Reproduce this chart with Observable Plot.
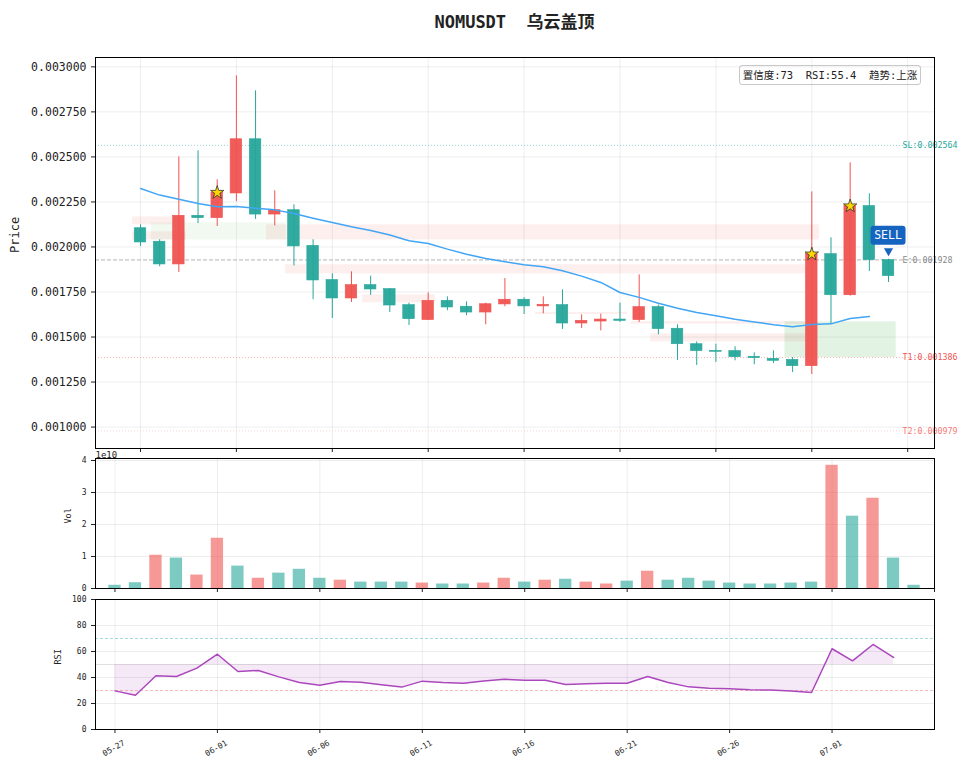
<!DOCTYPE html>
<html><head><meta charset="utf-8">
<script src="https://cdn.jsdelivr.net/npm/d3@7"></script>
<script src="https://cdn.jsdelivr.net/npm/@observablehq/plot@0.6"></script>
<style>
body{margin:0;background:#fff;}
#root{position:relative;width:967px;height:770px;font-family:"DejaVu Sans Mono","Noto Sans CJK SC",monospace;color:#222;}
.panel{position:absolute;left:0;}
.panel svg{overflow:visible;}
#title{position:absolute;left:95px;width:839px;top:8px;text-align:center;font-size:17px;font-weight:bold;white-space:pre;}
#info{position:absolute;left:739px;top:65px;width:180px;height:18px;line-height:18px;border:1px solid #c8c8c8;border-radius:3px;background:#fff;font-size:10.5px;text-align:center;white-space:pre;}
</style></head><body><div id="root">
<div id="title">NOMUSDT  乌云盖顶</div>
</div>
<script>
// ---------- data ----------
const dates = ["05-27","05-28","05-29","05-30","05-31","06-01","06-02","06-03","06-04","06-05",
  "06-06","06-07","06-08","06-09","06-10","06-11","06-12","06-13","06-14","06-15",
  "06-16","06-17","06-18","06-19","06-20","06-21","06-22","06-23","06-24","06-25",
  "06-26","06-27","06-28","06-29","06-30","07-01","07-02","07-03","07-04","07-05"];
const opens = [0.002104,0.002029,0.001903,0.002173,0.002160,0.002297,0.002598,0.002180,0.002204,0.002006,
  0.001816,0.001714,0.001788,0.001766,0.001677,0.001594,0.001701,0.001668,0.001636,0.001681,
  0.001707,0.001670,0.001677,0.001575,0.001586,0.001597,0.001594,0.001666,0.001546,0.001460,
  0.001423,0.001422,0.001390,0.001379,0.001373,0.001338,0.001960,0.001732,0.002227,0.001927];
const closes = [0.002025,0.001903,0.002173,0.002160,0.002302,0.002598,0.002180,0.002204,0.002003,0.001814,
  0.001714,0.001788,0.001764,0.001675,0.001599,0.001701,0.001664,0.001636,0.001682,0.001707,
  0.001670,0.001679,0.001575,0.001590,0.001597,0.001590,0.001666,0.001544,0.001460,0.001422,
  0.001418,0.001388,0.001383,0.001368,0.001338,0.001960,0.001732,0.002227,0.001927,0.001838];
const highs = [0.002123,0.002040,0.002500,0.002534,0.002373,0.002950,0.002867,0.002312,0.002234,0.002040,
  0.001851,0.001862,0.001838,0.001769,0.001688,0.001745,0.001723,0.001695,0.001688,0.001825,
  0.001718,0.001723,0.001762,0.001623,0.001627,0.001688,0.001845,0.001677,0.001568,0.001473,
  0.001460,0.001446,0.001412,0.001423,0.001386,0.002306,0.002051,0.002467,0.002295,0.001932];
const lows = [0.002003,0.001890,0.001858,0.002130,0.002114,0.002252,0.002153,0.002117,0.001895,0.001707,
  0.001603,0.001692,0.001731,0.001636,0.001564,0.001592,0.001646,0.001618,0.001568,0.001668,
  0.001625,0.001629,0.001542,0.001547,0.001534,0.001581,0.001581,0.001512,0.001370,0.001342,
  0.001359,0.001368,0.001346,0.001353,0.001303,0.001292,0.001575,0.001727,0.001864,0.001803];
const maValues = [0.002325,0.002288,0.002265,0.002241,0.002223,0.002225,0.002215,0.002206,0.002186,0.002160,
  0.002136,0.002112,0.002091,0.002066,0.002034,0.002019,0.001988,0.001960,0.001936,0.001918,
  0.001901,0.001890,0.001868,0.001838,0.001803,0.001747,0.001720,0.001688,0.001660,0.001636,
  0.001618,0.001599,0.001584,0.001568,0.001557,0.001570,0.001573,0.001603,0.001614];
const volumes = [0.10e10,0.18e10,1.04e10,0.95e10,0.42e10,1.57e10,0.70e10,0.32e10,0.48e10,0.60e10,
  0.32e10,0.26e10,0.20e10,0.20e10,0.20e10,0.17e10,0.14e10,0.14e10,0.17e10,0.32e10,
  0.20e10,0.26e10,0.29e10,0.20e10,0.14e10,0.23e10,0.54e10,0.26e10,0.32e10,0.23e10,
  0.17e10,0.14e10,0.14e10,0.17e10,0.20e10,3.85e10,2.26e10,2.82e10,0.95e10,0.10e10];
const rsiValues = [29.7,26.4,41.3,40.8,47.2,57.9,44.6,45.4,40.5,36.2,
  34.1,36.9,36.4,34.4,32.6,37.2,36.2,35.6,37.4,38.6,
  37.9,37.9,34.6,35.1,35.6,35.6,40.8,36.2,32.8,31.8,
  31.3,30.5,30.3,29.7,28.5,62.1,52.8,65.4,55.4];
// zones (order blocks / gaps)
const zoneStart = [-0.42,-0.42,0.57,6.57,7.56,11.57,20.6,25.6,26.6,33.6];
const zoneEnd   = [1.67,2.4,7.6,35.4,34.67,15.38,25.4,34.67,34.67,39.4];
const zoneLow   = [0.002123,0.002039,0.002039,0.002039,0.001851,0.001690,0.001625,0.001571,0.001473,0.001386];
const zoneHigh  = [0.002167,0.002084,0.002134,0.002123,0.001901,0.001734,0.001636,0.001586,0.001518,0.001584];
const zoneType  = ["bear","bear","bull","bear","bear","bear","bear","bear","bear","bullStrong"];
// signals
const starIdx = [4,35,37];
const sellIdx = 39, sellBoxPrice = 0.002062, sellArrowPrice = 0.001978;
const levelNames = ["SL","E","T1","T2"];
const levelValues = [0.002564,0.001928,0.001386,0.000979];
const confidence = 73, trendText = "上涨";

// ---------- derived tables ----------
const UP = "#ef5350", DOWN = "#26a69a";
const candles = dates.map((d,i)=>({i, date:d, open:opens[i], close:closes[i], high:highs[i], low:lows[i],
  color: closes[i] >= opens[i] ? UP : DOWN}));
const maData = maValues.map((v,i)=>({i, v}));
const volData = volumes.map((v,i)=>({i, v, color: candles[i].color}));
const rsiData = rsiValues.map((v,i)=>({i, v}));
const zones = zoneStart.map((s,k)=>({x1:s, x2:zoneEnd[k], y1:zoneLow[k], y2:zoneHigh[k], type:zoneType[k]}));
const stars = starIdx.map(i=>({i, y:closes[i]}));
const levels = levelNames.map((n,k)=>({name:n, v:levelValues[k]}));
const levelColor = {SL:"#26a69a", E:"#888", T1:"#ef5350", T2:"#f47a78"};

document.getElementById("root").insertAdjacentHTML("beforeend",
  `<div id="info">置信度:${confidence}  RSI:${rsiValues[rsiValues.length-1].toFixed(1)}  趋势:${trendText}</div>`);

const FONT = "DejaVu Sans Mono, Noto Sans CJK SC, monospace";
const GRID = {stroke: "#000", strokeOpacity: 0.07};

function sellBox(index, scales) {
  const x = scales.x(sellIdx), y = scales.y(sellBoxPrice);
  const g = d3.create("svg:g");
  g.append("rect").attr("x", x-17.5).attr("y", y-9.5).attr("width", 35).attr("height", 19)
    .attr("rx", 3).attr("fill", "#1565c0");
  g.append("text").attr("x", x).attr("y", y).attr("dy", "0.36em").attr("text-anchor", "middle")
    .attr("fill", "white").attr("font-size", 11.5).attr("font-family", FONT).text("SELL");
  return g.node();
}

// ---------- price panel ----------
const priceTicks = d3.range(0, 9).map(k => 0.001 + k*0.00025);
const topXTicks = d3.range(0, 41, 5);
const pricePlot = Plot.plot({
  width: 967, height: 455, marginLeft: 95, marginRight: 33, marginTop: 57, marginBottom: 7,
  style: {fontFamily: FONT, fontSize: "11.5px", color: "#222", background: "transparent", overflow: "visible"},
  x: {type: "linear", domain: [-2.346, 41.397], ticks: topXTicks, tickFormat: () => "", tickSize: 4, label: null},
  y: {domain: [0.000881, 0.003052], ticks: priceTicks, tickFormat: d3.format(".6f"), tickSize: 4, label: null},
  marks: [
    Plot.ruleX(topXTicks, {x: d=>d, ...GRID}),
    Plot.ruleY(priceTicks, {y: d=>d, ...GRID}),
    Plot.rect(zones.filter(z=>z.type==="bear"), {x1:"x1", x2:"x2", y1:"y1", y2:"y2", fill:"#ef5350", fillOpacity:0.09}),
    Plot.rect(zones.filter(z=>z.type==="bull"), {x1:"x1", x2:"x2", y1:"y1", y2:"y2", fill:"#4caf50", fillOpacity:0.08}),
    Plot.rect(zones.filter(z=>z.type==="bullStrong"), {x1:"x1", x2:"x2", y1:"y1", y2:"y2", fill:"#4caf50", fillOpacity:0.16}),
    Plot.ruleY(levels.filter(l=>l.name==="SL"), {y:"v", stroke:"#26a69a", strokeOpacity:0.6, strokeDasharray:"1,2", strokeWidth:0.8}),
    Plot.ruleY(levels.filter(l=>l.name==="E"), {y:"v", stroke:"#888", strokeOpacity:0.8, strokeDasharray:"4,2", strokeWidth:0.8}),
    Plot.ruleY(levels.filter(l=>l.name==="T1"), {y:"v", stroke:"#ef5350", strokeOpacity:0.5, strokeDasharray:"1,2", strokeWidth:0.8}),
    Plot.ruleY(levels.filter(l=>l.name==="T2"), {y:"v", stroke:"#ef5350", strokeOpacity:0.3, strokeDasharray:"1,2", strokeWidth:0.8}),
    Plot.ruleX(candles, {x:"i", y1:"low", y2:"high", stroke:"color", strokeWidth:1}),
    Plot.rect(candles, {x1: d=>d.i-0.3, x2: d=>d.i+0.3, y1:"open", y2:"close", fill:"color", stroke:"color", strokeWidth:0.6, fillOpacity:0.95}),
    Plot.line(maData, {x:"i", y:"v", stroke:"#42a5f5", strokeWidth:1.5}),
    Plot.dot(stars, {x:"i", y:"y", symbol:"star", r:4.2, fill:"#ffd700", stroke:"#333", strokeWidth:0.8}),
    Plot.dot([sellIdx], {x: d=>d, y: () => sellArrowPrice, symbol:"triangle", rotate:180, r:3.4, fill:"#1565c0"}),
    sellBox,
    Plot.text(levels, {y:"v", text: d=>`${d.name}:${d.v.toFixed(6)}`, frameAnchor:"right", dx:-32, textAnchor:"start",
      fill: d=>levelColor[d.name], fontSize:8.3}),
    Plot.text(["Price"], {frameAnchor:"left", dx:-80, rotate:-90, fontSize:12}),
    Plot.frame({stroke:"black", strokeWidth:1})
  ]
});
const topDiv = document.createElement("div"); topDiv.className = "panel"; topDiv.style.top = "0px";
topDiv.appendChild(pricePlot);
document.getElementById("root").appendChild(topDiv);

// ---------- volume panel ----------
const volXTicks = d3.range(0, 41, 5);
const volYTicks = [0,1e10,2e10,3e10,4e10];
const volPlot = Plot.plot({
  width: 967, height: 145, marginLeft: 95, marginRight: 33, marginTop: 8, marginBottom: 7,
  style: {fontFamily: FONT, fontSize: "8px", color: "#222", background: "transparent", overflow: "visible"},
  x: {type: "linear", domain: [-0.95, 40], ticks: volXTicks, tickFormat: () => "", tickSize: 4, label: null},
  y: {domain: [0, 4.0625e10], ticks: volYTicks, tickFormat: d => String(d/1e10), tickSize: 4, label: null},
  marks: [
    Plot.ruleX(volXTicks, {x: d=>d, ...GRID}),
    Plot.ruleY(volYTicks, {y: d=>d, ...GRID}),
    Plot.rect(volData, {x1: d=>d.i-0.3, x2: d=>d.i+0.3, y1: 0, y2: "v", fill: "color", fillOpacity: 0.6}),
    Plot.text(["1e10"], {frameAnchor:"top-left", dy:-7, textAnchor:"start", fontSize:9}),
    Plot.text(["Vol"], {frameAnchor:"left", dx:-27, rotate:-90, fontSize:8.5}),
    Plot.frame({stroke:"black", strokeWidth:1})
  ]
});
const volDiv = document.createElement("div"); volDiv.className = "panel"; volDiv.style.top = "450px";
volDiv.appendChild(volPlot);
document.getElementById("root").appendChild(volDiv);

// ---------- RSI panel ----------
const labelTicks = d3.range(0, 36, 5);
const rsiYTicks = d3.range(0, 101, 20);
const rsiPlot = Plot.plot({
  width: 967, height: 180, marginLeft: 95, marginRight: 33, marginTop: 9, marginBottom: 41,
  style: {fontFamily: FONT, fontSize: "8px", color: "#222", background: "transparent", overflow: "visible"},
  x: {type: "linear", domain: [-0.95, 40], ticks: labelTicks, tickFormat: () => "", tickSize: 4, label: null},
  y: {domain: [0, 100], ticks: rsiYTicks, tickSize: 4, label: null},
  marks: [
    Plot.ruleX(labelTicks, {x: d=>d, ...GRID}),
    Plot.ruleY(rsiYTicks, {y: d=>d, ...GRID}),
    Plot.areaY(rsiData, {x:"i", y1: 50, y2:"v", fill:"#9c27b0", fillOpacity:0.1}),
    Plot.ruleY([50], {stroke:"#999", strokeOpacity:0.3}),
    Plot.ruleY([70], {stroke:"#26a69a", strokeOpacity:0.5, strokeDasharray:"3,2", strokeWidth:0.8}),
    Plot.ruleY([30], {stroke:"#ef5350", strokeOpacity:0.5, strokeDasharray:"3,2", strokeWidth:0.8}),
    Plot.line(rsiData, {x:"i", y:"v", stroke:"#ab47bc", strokeWidth:1.5}),
    Plot.text(labelTicks, {x: d=>d, text: d=>dates[d], frameAnchor:"bottom", dy:21, rotate:-30, fontSize:8}),
    Plot.text(["RSI"], {frameAnchor:"left", dx:-37, rotate:-90, fontSize:8.5}),
    Plot.frame({stroke:"black", strokeWidth:1})
  ]
});
const rsiDiv = document.createElement("div"); rsiDiv.className = "panel"; rsiDiv.style.top = "590px";
rsiDiv.appendChild(rsiPlot);
document.getElementById("root").appendChild(rsiDiv);
</script>
</body></html>
